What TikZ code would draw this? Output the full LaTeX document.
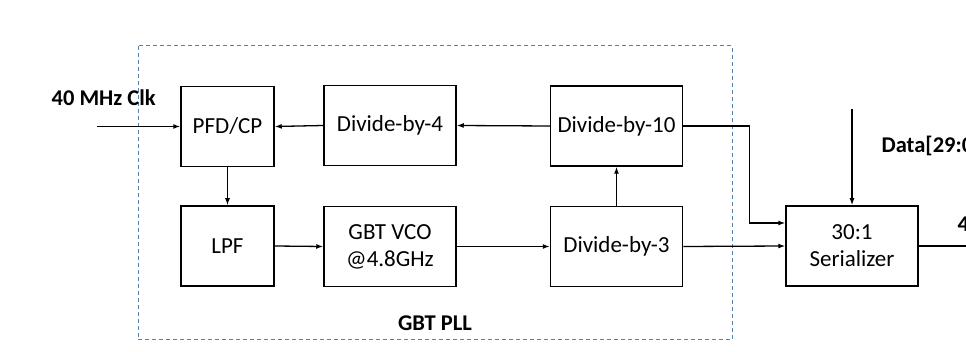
\documentclass[tikz,border=0pt]{standalone}
\usepackage{fontspec}
\setmainfont{Carlito}
\usetikzlibrary{arrows.meta}

\tikzset{
  blk/.style={draw, line width=1.5pt, minimum width=132pt, minimum height=80pt,
    inner sep=0pt, align=center, font=\fontsize{23}{27}\selectfont},
  narrow/.style={minimum width=93pt},
  lbl/.style={font=\fontsize{22.5}{27}\selectfont\bfseries, inner sep=0pt},
  pllbox/.style={draw=pllblue, line width=1pt, dash pattern=on 4pt off 3pt}
}
\definecolor{pllblue}{RGB}{84,130,172}

\begin{document}
\begin{tikzpicture}[x=1pt, y=-1pt, >={Latex[length=7pt,width=5pt]}, line width=1.3pt]

\clip (0,0) rectangle (966,352);

% ----- PLL boundary -----
\draw[pllbox] (138,46) rectangle (732,340);
\node[lbl] (pll) at (435,323) {GBT PLL};

% ----- Blocks -----
\node[blk, narrow] (pfd)   at (227.5,126.5) {PFD/CP};
\node[blk]         (div4)  at (390,125.5)   {Divide-by-4};
\node[blk]         (div10) at (616.5,126)   {Divide-by-10};
\node[blk, narrow] (lpf)   at (227.5,246)   {LPF};
\node[blk]         (vco)   at (390,246.5)   {GBT VCO\\@4.8GHz};
\node[blk]         (div3)  at (616.5,246.5) {Divide-by-3};
\node[blk]         (ser)   at (852,246)     {30:1\\Serializer};

% ----- Labels -----
\node[lbl, anchor=west] (clk)  at (51,98)   {40 MHz Clk};
\node[lbl, anchor=west] (data) at (881,146) {Data[29:0]};
\node[lbl, anchor=west] (rate) at (957,225) {4.8 Gbps};

% ----- Free ends -----
\coordinate (clkin)  at (97,126.5);
\coordinate (datain) at (852,109);
\coordinate (serout) at (966,246);

% ----- Connections -----
\draw[->] (clkin) -- (pfd.west);
\draw[->] (div4.west) -- (pfd.east);
\draw[->] (div10.west) -- (div4.east);
\draw[->] (pfd.south) -- (lpf.north);
\draw[->] (lpf.east) -- (vco.west);
\draw[->] (vco.east) -- (div3.west);
\draw[->] (div3.north) -- (div10.south);
\draw[->] (div10.east) -- ++(66,0) |- ([yshift=23pt]ser.west);
\draw[->] (div3.east) -- (ser.west);
\draw[->] (datain) -- (ser.north);
\draw (ser.east) -- (serout);
\end{tikzpicture}
\end{document}
